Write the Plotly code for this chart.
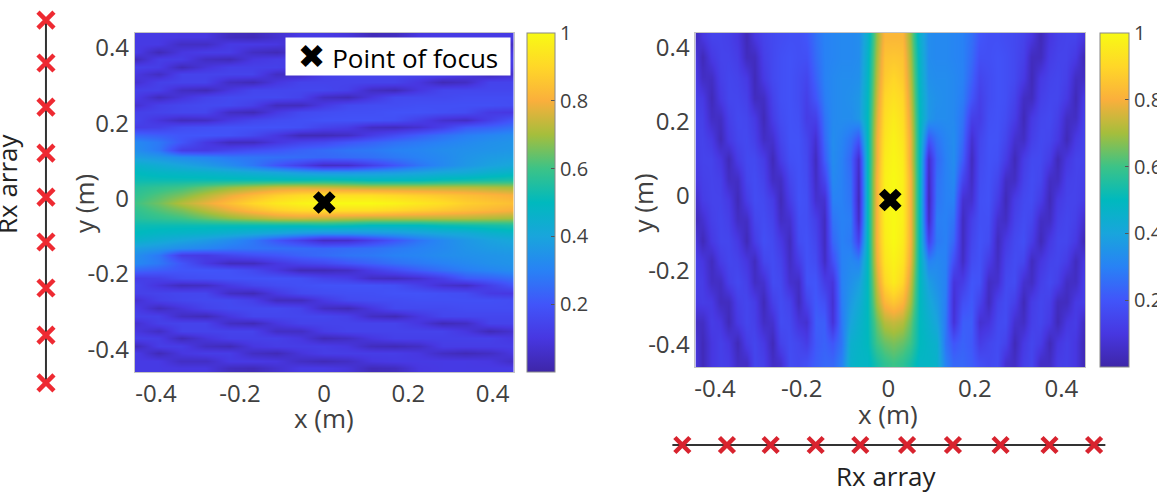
import plotly.graph_objects as go

# ---- data ----
left_x = [-0.45, -0.39375, -0.3375, -0.28125, -0.225, -0.16875, -0.1125, -0.05625, 0.0,
          0.05625, 0.1125, 0.16875, 0.225, 0.28125, 0.3375, 0.39375, 0.45]
left_y_upper = [0.44, 0.42, 0.40, 0.38, 0.36, 0.34, 0.32, 0.30, 0.28, 0.26, 0.24, 0.22,
                0.20, 0.18, 0.16, 0.14, 0.12, 0.10, 0.08, 0.06, 0.04, 0.02, 0.0]
left_z_upper = [
    [.11, .11, .10, .10, .04, .03, .07, .11, .11, .09, .03, .04, .10, .11, .11, .11, .11],
    [.11, .11, .05, .05, .11, .11, .10, .05, .03, .05, .10, .11, .11, .11, .11, .10, .05],
    [.12, .03, .10, .12, .12, .05, .03, .09, .12, .12, .12, .12, .10, .05, .03, .05, .10],
    [.03, .12, .12, .05, .03, .10, .12, .12, .12, .10, .04, .03, .05, .12, .12, .12, .12],
    [.13, .12, .03, .09, .13, .13, .13, .10, .03, .05, .10, .13, .13, .13, .13, .13, .10],
    [.10, .05, .14, .14, .14, .14, .05, .05, .12, .14, .14, .14, .14, .14, .10, .03, .07],
    [.07, .13, .14, .14, .05, .03, .10, .14, .14, .14, .14, .14, .10, .03, .05, .14, .14],
    [.13, .13, .05, .03, .10, .15, .15, .15, .15, .13, .05, .03, .10, .15, .15, .15, .15],
    [.12, .04, .09, .14, .16, .16, .16, .14, .05, .03, .10, .16, .16, .16, .17, .17, .17],
    [.07, .13, .15, .16, .16, .13, .04, .04, .11, .16, .17, .17, .18, .18, .18, .18, .17],
    [.13, .14, .15, .15, .05, .03, .11, .16, .17, .18, .18, .19, .19, .18, .17, .11, .10],
    [.15, .09, .04, .05, .11, .15, .17, .18, .19, .19, .19, .18, .13, .07, .05, .13, .20],
    [.12, .13, .17, .18, .19, .19, .19, .18, .14, .12, .05, .04, .07, .13, .21, .23, .26],
    [.24, .22, .20, .20, .19, .16, .10, .03, .03, .05, .12, .17, .22, .26, .29, .31, .33],
    [.32, .28, .20, .11, .04, .04, .10, .14, .16, .20, .23, .26, .28, .30, .32, .34, .35],
    [.34, .28, .12, .11, .15, .18, .20, .23, .25, .27, .28, .30, .31, .33, .34, .35, .36],
    [.38, .36, .33, .31, .28, .27, .26, .25, .24, .25, .26, .28, .30, .32, .35, .37, .38],
    [.46, .43, .40, .37, .33, .28, .20, .13, .05, .06, .13, .20, .27, .32, .36, .39, .41],
    [.50, .48, .47, .46, .44, .42, .40, .37, .35, .35, .36, .37, .39, .41, .42, .45, .47],
    [.52, .52, .52, .52, .52, .52, .52, .52, .53, .52, .50, .50, .50, .52, .53, .54, .55],
    [.56, .58, .60, .64, .68, .71, .74, .75, .74, .73, .72, .72, .72, .72, .72, .71, .70],
    [.58, .62, .66, .72, .78, .83, .88, .91, .92, .92, .92, .90, .88, .86, .84, .82, .80],
    [.60, .65, .72, .78, .84, .90, .95, .98, 1.0, 1.0, 1.0, .98, .95, .92, .88, .86, .84],
]
# lower half of the left map reads as the mirror of the upper half
left_y = left_y_upper + [-v for v in left_y_upper[-2::-1]]
left_z = left_z_upper + left_z_upper[-2::-1]

right_y = [0.44, 0.385, 0.33, 0.275, 0.22, 0.165, 0.11, 0.055, 0.0,
           -0.055, -0.11, -0.165, -0.22, -0.275, -0.33, -0.385, -0.44]
right_x_offsets = [0.0, 0.02, 0.04, 0.06, 0.08, 0.10, 0.12, 0.14, 0.16, 0.18, 0.20, 0.22,
                   0.24, 0.26, 0.28, 0.30, 0.32, 0.34, 0.36, 0.38, 0.40, 0.42, 0.44, 0.46]
right_beam_x = 0.007
right_z_half = [
    [.82, .82, .68, .45, .33, .32, .32, .31, .30, .26, .20, .18, .18, .17, .16, .14, .10, .03, .10, .13, .14, .14, .10, .03],
    [.86, .85, .70, .47, .33, .32, .32, .31, .30, .25, .18, .18, .19, .18, .16, .13, .04, .04, .12, .14, .14, .11, .03, .10],
    [.90, .87, .72, .48, .34, .33, .33, .32, .30, .23, .15, .17, .19, .18, .16, .11, .03, .11, .14, .15, .13, .05, .05, .12],
    [.93, .90, .74, .49, .36, .34, .33, .32, .29, .20, .13, .17, .19, .18, .14, .05, .04, .13, .15, .15, .11, .03, .11, .13],
    [.96, .92, .76, .50, .36, .33, .33, .32, .27, .13, .12, .18, .19, .17, .12, .03, .11, .15, .16, .13, .05, .05, .13, .14],
    [.98, .94, .78, .50, .20, .27, .31, .33, .25, .07, .15, .19, .19, .15, .07, .05, .13, .16, .15, .11, .03, .11, .14, .13],
    [.99, .96, .78, .50, .06, .24, .30, .33, .22, .04, .16, .19, .18, .12, .03, .12, .16, .16, .12, .03, .10, .14, .14, .12],
    [1.0, .97, .80, .50, .04, .26, .30, .32, .15, .05, .17, .19, .15, .05, .05, .14, .17, .15, .05, .05, .13, .14, .13, .10],
    [1.0, .97, .80, .50, .03, .27, .30, .30, .07, .07, .18, .19, .12, .03, .12, .16, .17, .12, .03, .11, .14, .14, .12, .05],
    [1.0, .97, .80, .50, .05, .29, .30, .27, .04, .13, .18, .18, .07, .05, .14, .17, .15, .05, .05, .13, .15, .13, .07, .03],
    [1.0, .96, .80, .50, .14, .28, .30, .24, .04, .15, .19, .17, .04, .11, .16, .18, .12, .03, .11, .15, .15, .11, .03, .10],
    [.98, .94, .78, .50, .30, .32, .30, .18, .05, .17, .19, .12, .05, .14, .17, .15, .04, .10, .14, .15, .12, .04, .10, .13],
    [.96, .90, .74, .50, .38, .34, .30, .09, .12, .20, .19, .05, .07, .16, .17, .07, .05, .13, .16, .13, .05, .05, .12, .13],
    [.86, .82, .70, .50, .42, .37, .29, .07, .18, .21, .14, .04, .14, .17, .13, .03, .12, .15, .13, .04, .04, .11, .12, .11],
    [.74, .72, .64, .50, .45, .40, .28, .08, .22, .22, .07, .09, .16, .17, .07, .05, .13, .15, .11, .03, .10, .12, .05, .05],
    [.66, .64, .60, .50, .47, .45, .27, .20, .23, .21, .12, .15, .17, .14, .03, .11, .15, .12, .03, .10, .13, .10, .03, .09],
    [.60, .58, .54, .48, .48, .46, .30, .24, .24, .22, .18, .16, .17, .07, .05, .13, .15, .05, .05, .12, .13, .10, .03, .10],
]
# right map reads as mirrored about the beam axis
right_x = [right_beam_x - d for d in right_x_offsets[:0:-1]] + [right_beam_x + d for d in right_x_offsets]
right_z = [row[:0:-1] + row for row in right_z_half]

colorbar_ticks = [0.2, 0.4, 0.6, 0.8, 1]
axis_ticks = [-0.4, -0.2, 0, 0.2, 0.4]
axis_tick_labels = ["-0.4", "-0.2", "0", "0.2", "0.4"]

focus_x = [0.0]
focus_y = [0.0]

# Rx element positions, metres
rx_left_y = [0.483, 0.369, 0.252, 0.130, 0.013, -0.106, -0.228, -0.353, -0.480]
rx_left_x = [0.0] * 9
rx_bottom_x = [-0.48, -0.377, -0.276, -0.172, -0.069, 0.039, 0.145, 0.255, 0.368, 0.471]
rx_bottom_y = [0.0] * 10
rx_bottom_line_x = [-0.503, 0.497]
rx_bottom_line_y = [0.0, 0.0]

parula = [
    [0.0, "rgb(62,38,168)"], [0.1, "rgb(71,55,225)"], [0.2, "rgb(65,85,250)"],
    [0.3, "rgb(40,130,245)"], [0.4, "rgb(25,165,220)"], [0.5, "rgb(0,185,190)"],
    [0.6, "rgb(60,195,135)"], [0.7, "rgb(165,190,60)"], [0.8, "rgb(250,175,60)"],
    [0.9, "rgb(255,215,40)"], [1.0, "rgb(248,250,20)"],
]

# The page is wider than the window so the right colour bar's labels run off the edge,
# as they do in the reference.
W, H = 1200, 492
TOP_PUSH = 3  # plotly pushes the top margin by this much for the colour bars
FONT = "Open Sans"
TXT = "#404040"


def fx(px):
    return px / W


def fy(px):
    return 1 - (px - TOP_PUSH) / (H - TOP_PUSH)


def colorbar(x_px, top_px, bottom_px, thick):
    return dict(
        x=fx(x_px), xanchor="left", xpad=0, ypad=0,
        y=fy(bottom_px), yanchor="bottom",
        len=(bottom_px - top_px) / (H - TOP_PUSH), lenmode="fraction", thickness=thick,
        tickvals=colorbar_ticks, ticks="inside", ticklen=4, tickcolor="#555",
        tickfont=dict(family=FONT, size=20, color=TXT),
        outlinecolor="#888", outlinewidth=1,
    )


fig = go.Figure()
fig.add_trace(go.Heatmap(x=left_x, y=left_y, z=left_z, zmin=0, zmax=1, zsmooth="best",
                         colorscale=parula, colorbar=colorbar(526, 33, 372, 28),
                         xaxis="x", yaxis="y", hoverinfo="skip"))
fig.add_trace(go.Heatmap(x=right_x, y=right_y, z=right_z, zmin=0, zmax=1, zsmooth="best",
                         colorscale=parula, colorbar=colorbar(1100, 33, 367, 29),
                         xaxis="x2", yaxis="y2", hoverinfo="skip"))

fig.add_trace(go.Scatter(x=rx_left_x, y=rx_left_y, mode="lines+markers", cliponaxis=False,
                         line=dict(color="#333", width=2),
                         marker=dict(symbol="x-thin", size=16, line=dict(color="#EE2A32", width=4.5)),
                         showlegend=False, xaxis="x3", yaxis="y3"))
fig.add_trace(go.Scatter(x=rx_bottom_line_x, y=rx_bottom_line_y, mode="lines", cliponaxis=False,
                         line=dict(color="#333", width=2), showlegend=False, xaxis="x4", yaxis="y4"))
fig.add_trace(go.Scatter(x=rx_bottom_x, y=rx_bottom_y, mode="markers", cliponaxis=False,
                         marker=dict(symbol="x-thin", size=15, line=dict(color="#D8232E", width=4.5)),
                         showlegend=False, xaxis="x4", yaxis="y4"))

for xa, ya in (("x", "y"), ("x2", "y2")):
    fig.add_trace(go.Scatter(x=focus_x, y=focus_y, mode="markers",
                             marker=dict(symbol="x", size=20, color="black"),
                             showlegend=False, xaxis=xa, yaxis=ya))


def xaxis(left, right, shift=0):
    return dict(domain=[fx(left), fx(right)], range=[-0.45, 0.45], tickvals=axis_ticks,
                ticktext=axis_tick_labels, ticks="", showgrid=False, zeroline=False,
                showline=True, mirror=True, linecolor="#c4c4c4", linewidth=1,
                ticklabelshift=shift,
                tickfont=dict(family=FONT, size=24, color=TXT))


def yaxis(top, bottom, anchor):
    return dict(domain=[fy(bottom), fy(top)], range=[-0.45, 0.45], anchor=anchor,
                tickvals=axis_ticks, ticktext=axis_tick_labels, ticks="", showgrid=False,
                zeroline=False, showline=True, mirror=True, linecolor="#c4c4c4", linewidth=1,
                ticklabelshift=-4,
                tickfont=dict(family=FONT, size=24, color=TXT))


def hidden(domain, rng, anchor):
    return dict(domain=domain, range=rng, visible=False, anchor=anchor)


def text(label, x_px, y_px, angle=0, size=26, color=TXT):
    return dict(text=label, x=fx(x_px), y=fy(y_px), xref="paper", yref="paper",
                showarrow=False, textangle=angle, xanchor="center", yanchor="middle",
                font=dict(family=FONT, size=size, color=color))


legend_box = dict(
    text='<span style="font-family:DejaVu Sans;font-size:33px">\u2716</span>\u00a0Point of focus',
    x=fx(284), y=fy(37), xref="paper", yref="paper", xanchor="left", yanchor="top",
    width=224, height=37, align="center", valign="middle", bgcolor="white", borderpad=0,
    showarrow=False, font=dict(family=FONT, size=26, color="black"),
)

fig.update_layout(
    width=W, height=H, autosize=False,
    margin=dict(l=0, r=0, t=0, b=0, pad=0),
    paper_bgcolor="white", plot_bgcolor="white",
    showlegend=False,
    xaxis=xaxis(134, 513),
    yaxis=yaxis(33, 372, "x"),
    xaxis2=dict(xaxis(695, 1085, shift=-2), anchor="y2"),
    yaxis2=yaxis(33, 367, "x2"),
    xaxis3=hidden([fx(30), fx(60)], [-1, 1], "y3"),
    yaxis3=hidden([fy(395), fy(8)], [-0.512, 0.515], "x3"),
    xaxis4=hidden([fx(665), fx(1120)], [-0.519, 0.531], "y4"),
    yaxis4=hidden([fy(460), fy(430)], [-1, 1], "x4"),
    annotations=[
        text("x (m)", 323, 418),
        text("x (m)", 888, 414),
        text("y (m)", 83, 203, -90),
        text("y (m)", 643, 203, -90),
        text("Rx array", 6, 183, -90, color="#222"),
        text("Rx array", 886, 476, 0, color="#222"),
        legend_box,
    ],
)

fig.write_html(
    "out.html",
    config={"displayModeBar": False},
    post_script="document.body.style.margin='0';document.documentElement.style.overflow='hidden';",
)
